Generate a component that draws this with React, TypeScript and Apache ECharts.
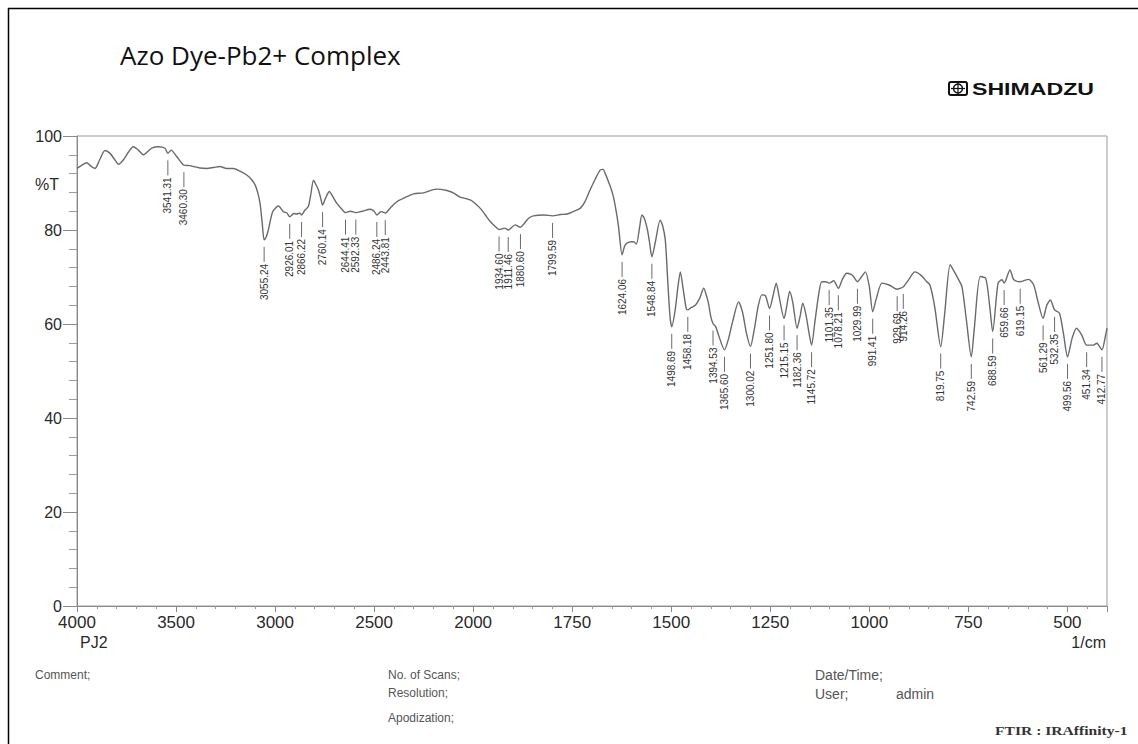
import { useEffect, useRef } from "react";
import * as echarts from "echarts";

// FTIR spectrum of the azo dye–Pb2+ complex (wavenumber in 1/cm, transmittance in %T)
const wavenumbers = [
  4000, 3975, 3951, 3930, 3909, 3885, 3859, 3833, 3810, 3791, 3766, 3740, 3716, 3690, 3665, 3640,
  3623, 3589, 3556, 3541.31, 3525, 3500, 3471, 3460.3, 3430, 3413, 3380, 3345, 3310, 3278, 3245, 3211,
  3180, 3143, 3120, 3101, 3088, 3076, 3065, 3055.24, 3045, 3034, 3012, 2983, 2958, 2940, 2926.01, 2905,
  2891, 2875, 2866.22, 2850, 2832, 2820, 2806, 2795, 2781, 2768, 2760.14, 2745, 2726, 2710, 2689, 2665,
  2644.41, 2620, 2592.33, 2560, 2520, 2500, 2486.24, 2470, 2461, 2443.81, 2420, 2386, 2350, 2301, 2251,
  2210, 2183, 2133, 2100, 2066, 2030, 2015, 2000, 1982, 1970, 1957, 1945, 1934.6, 1920, 1911.46, 1894,
  1880.6, 1870, 1860, 1848, 1822, 1799.59, 1780, 1763, 1745, 1730, 1718, 1705, 1692, 1679, 1672, 1667,
  1655, 1646, 1638, 1633, 1624.06, 1618, 1612, 1600, 1595, 1588, 1580, 1574, 1568, 1560, 1555, 1548.84,
  1540, 1528, 1522, 1515, 1508, 1503, 1498.69, 1490, 1483, 1477, 1470, 1462, 1458.18, 1450, 1439, 1428,
  1418, 1411, 1406, 1400, 1394.53, 1388, 1380, 1365.6, 1355, 1345, 1330, 1320, 1310, 1300.02, 1290, 1280,
  1271, 1262, 1251.8, 1243, 1235, 1228, 1215.15, 1208, 1201, 1193, 1182.36, 1175, 1168, 1160, 1152,
  1145.72, 1138, 1128, 1120, 1110, 1101.35, 1090, 1078.21, 1068, 1057, 1045, 1040, 1029.99, 1020, 1010,
  1000, 991.41, 982, 968, 950, 940, 929.69, 922, 914.26, 900, 885, 870, 855, 847, 835, 819.75, 810, 796,
  788, 775, 766, 755, 742.59, 735, 720, 706, 696, 688.59, 675, 665, 659.66, 645, 635, 619.15, 598, 585,
  575, 561.29, 552, 543, 532.35, 520, 510, 499.56, 488, 477, 464, 451.34, 435, 426, 412.77, 405, 400,
];

const transmittance = [
  93.1, 93.8, 94.3, 93.6, 93.1, 95.0, 96.9, 96.3, 95.0, 94.0, 94.9, 96.6, 97.7, 97.0, 96.0, 96.8,
  97.4, 97.7, 97.4, 96.3, 97.0, 95.8, 94.2, 93.8, 93.7, 93.5, 93.2, 93.1, 93.3, 93.5, 93.1, 93.1,
  92.6, 91.7, 90.8, 89.6, 88.0, 85.7, 81.5, 77.9, 78.5, 80.0, 83.9, 85.1, 83.9, 83.6, 82.8, 83.5,
  83.4, 83.6, 83.2, 84.2, 85.0, 87.5, 90.6, 89.8, 88.5, 86.5, 85.3, 86.8, 88.2, 87.2, 85.7, 84.5,
  83.7, 84.0, 83.7, 84.0, 84.4, 84.0, 83.2, 83.8, 83.9, 83.6, 84.6, 86.0, 86.8, 87.7, 87.9,
  88.5, 88.7, 88.4, 87.9, 87.0, 86.6, 86.4, 86.0, 84.6, 83.3, 81.8, 80.8, 80.1, 80.4, 80.0, 81.1,
  80.6, 81.5, 82.5, 83.0, 83.2, 83.0, 83.3, 83.4, 84.0, 84.6, 86.0, 88.5, 90.8, 92.8, 92.9, 92.1,
  89.5, 87.1, 83.5, 80.7, 74.7, 76.5, 77.2, 77.5, 77.5, 77.0, 80.5, 83.2, 82.5, 80.0, 77.5, 74.3,
  77.5, 82.1, 81.0, 77.9, 68.0, 61.5, 59.4, 63.0, 68.0, 71.1, 67.5, 63.2, 63.0, 63.5, 64.0, 65.5,
  67.6, 66.0, 64.4, 61.5, 60.1, 59.5, 57.5, 54.5, 57.0, 60.5, 64.7, 62.5, 58.0, 55.2, 59.0, 64.0,
  66.2, 66.0, 63.3, 66.0, 68.7, 66.0, 61.2, 64.0, 66.9, 64.5, 59.1, 61.5, 64.4, 62.0, 58.0,
  55.5, 60.0, 66.2, 69.0, 69.0, 68.7, 69.2, 67.6, 69.5, 70.8, 70.5, 70.1, 69.0, 70.0, 71.1,
  68.0, 62.6, 65.5, 68.7, 68.3, 67.8, 67.4, 67.6, 67.9, 69.5, 71.1, 70.4, 69.0, 68.3, 63.7, 55.2, 62.0, 72.6,
  71.5, 69.5, 67.9, 60.9, 53.0, 59.0, 70.1, 69.7, 63.7, 58.4, 68.7, 69.4, 68.7, 71.5, 69.4, 69.0, 69.5, 68.3,
  65.0, 61.2, 64.0, 65.1, 63.0, 62.3, 58.0, 53.0, 57.0, 59.1, 57.7, 55.5, 55.5, 55.9, 54.5, 57.0, 59.1,
];

// Picked band positions, labelled under the trace
const peakWavenumbers = [
  3541.31, 3460.3, 3055.24, 2926.01, 2866.22, 2760.14, 2644.41, 2592.33, 2486.24, 2443.81,
  1934.6, 1911.46, 1880.6, 1799.59, 1624.06, 1548.84, 1498.69, 1458.18, 1394.53, 1365.6,
  1300.02, 1251.8, 1215.15, 1182.36, 1145.72, 1101.35, 1078.21, 1029.99, 991.41, 929.69,
  914.26, 819.75, 742.59, 688.59, 659.66, 619.15, 561.29, 532.35, 499.56, 451.34, 412.77,
];

const xTickLabels = [4000, 3500, 3000, 2500, 2000, 1750, 1500, 1250, 1000, 750, 500];
const yTickLabels = [0, 20, 40, 60, 80, 100];

// The instrument halves the scale above 2000 1/cm: 2 cm-1 per unit there, 1 cm-1 per unit below.
const toAxis = (w: number) => (w >= 2000 ? (4000 - w) / 2 : 3000 - w);
const fromAxis = (u: number) => (u <= 1000 ? 4000 - 2 * u : 3000 - u);

const SANS = '"Liberation Sans", Arial, sans-serif';

export default function App() {
  const ref = useRef<HTMLDivElement>(null);

  useEffect(() => {
    if (!ref.current) return;
    const chart = echarts.init(ref.current, null, { renderer: "svg" });

    const spectrum = wavenumbers.map((w, i) => [toAxis(w), transmittance[i]]);
    const peaks = peakWavenumbers.map((w) => [toAxis(w), transmittance[wavenumbers.indexOf(w)]]);
    const peakLabels = peakWavenumbers.map((w) => w.toFixed(2));
    const tickSet = new Set(xTickLabels.map(toAxis));

    const footer = (text: string, x: number, y: number, size: number) => ({
      type: "text",
      x,
      y,
      style: { text, font: `${size}px ${SANS}`, fill: "#555", verticalAlign: "middle" },
    });

    chart.setOption({
      animation: false,
      backgroundColor: "#fff",
      grid: {
        left: 77,
        right: 31,
        top: 136,
        bottom: 138,
        show: true,
        borderColor: "#9a9a9a",
        borderWidth: 1,
      },
      xAxis: {
        type: "value",
        min: 0,
        max: 2600,
        interval: 250,
        axisLine: { lineStyle: { color: "#8a8a8a", width: 1 } },
        axisTick: { show: true, length: 6, lineStyle: { color: "#8a8a8a" } },
        minorTick: { show: true, splitNumber: 5, length: 3, lineStyle: { color: "#9a9a9a" } },
        splitLine: { show: false },
        axisLabel: {
          margin: 8,
          fontSize: 17,
          fontFamily: SANS,
          color: "#2a2a2a",
          showMaxLabel: false,
          formatter: (u: number) => (tickSet.has(u) ? String(fromAxis(u)) : ""),
        },
      },
      yAxis: {
        type: "value",
        min: 0,
        max: 100,
        interval: 20,
        axisLine: { show: true, lineStyle: { color: "#8a8a8a", width: 1 } },
        axisTick: { show: true, length: 14, lineStyle: { color: "#8a8a8a" } },
        minorTick: { show: true, splitNumber: 5, length: 8, lineStyle: { color: "#9a9a9a" } },
        splitLine: { show: false },
        axisLabel: {
          margin: 15,
          fontSize: 16,
          fontFamily: SANS,
          color: "#2a2a2a",
          formatter: (v: number) => (yTickLabels.includes(v) ? String(v) : ""),
        },
      },
      series: [
        {
          type: "line",
          data: spectrum,
          symbol: "none",
          smooth: 0.25,
          lineStyle: { color: "#6a6a6a", width: 1.4 },
          z: 3,
        },
        {
          type: "custom",
          data: peaks,
          z: 4,
          renderItem: (params: any, api: any) => {
            const pt = api.coord([api.value(0), api.value(1)]);
            const top = pt[1] + 7;
            const bottom = top + 15;
            return {
              type: "group",
              children: [
                {
                  type: "line",
                  shape: { x1: pt[0], y1: top, x2: pt[0], y2: bottom },
                  style: { stroke: "#6a6a6a", lineWidth: 1 },
                },
                {
                  type: "text",
                  x: pt[0],
                  y: bottom + 2,
                  rotation: Math.PI / 2,
                  style: {
                    text: peakLabels[params.dataIndex],
                    font: `10px ${SANS}`,
                    fill: "#333",
                    align: "right",
                    verticalAlign: "middle",
                  },
                },
              ],
            };
          },
        },
      ],
      graphic: [
        // page frame
        { type: "line", shape: { x1: 8, y1: 8.5, x2: 1138, y2: 8.5 }, style: { stroke: "#000", lineWidth: 1.5 } },
        { type: "line", shape: { x1: 8.5, y1: 8, x2: 8.5, y2: 744 }, style: { stroke: "#000", lineWidth: 1.5 } },
        {
          type: "text",
          x: 120,
          y: 55,
          style: { text: "Azo Dye-Pb2+ Complex", font: '26px "Open Sans", sans-serif', fill: "#111", verticalAlign: "middle" },
        },
        // instrument logo
        {
          type: "rect",
          shape: { x: 949, y: 82, width: 18, height: 13, r: 2 },
          style: { fill: "none", stroke: "#111", lineWidth: 2 },
        },
        { type: "circle", shape: { cx: 958, cy: 88.5, r: 4.5 }, style: { fill: "none", stroke: "#111", lineWidth: 1.5 } },
        { type: "line", shape: { x1: 958, y1: 83, x2: 958, y2: 94 }, style: { stroke: "#111", lineWidth: 1.2 } },
        { type: "line", shape: { x1: 951, y1: 88.5, x2: 965, y2: 88.5 }, style: { stroke: "#111", lineWidth: 1.2 } },
        {
          type: "text",
          x: 972,
          y: 89,
          scaleX: 1.36,
          style: { text: "SHIMADZU", font: `bold 17px ${SANS}`, fill: "#111", verticalAlign: "middle" },
        },
        { type: "text", x: 35, y: 184, style: { text: "%T", font: `16px ${SANS}`, fill: "#2a2a2a", verticalAlign: "middle" } },
        { type: "text", x: 80, y: 642, style: { text: "PJ2", font: `16px ${SANS}`, fill: "#2a2a2a", verticalAlign: "middle" } },
        {
          type: "text",
          x: 1106,
          y: 642,
          style: { text: "1/cm", font: `16px ${SANS}`, fill: "#2a2a2a", align: "right", verticalAlign: "middle" },
        },
        footer("Comment;", 35, 675, 12),
        footer("No. of Scans;", 388, 675, 12),
        footer("Resolution;", 388, 693, 12),
        footer("Apodization;", 388, 718, 12),
        footer("Date/Time;", 815, 675, 14),
        footer("User;", 815, 694, 14),
        footer("admin", 896, 694, 14),
        {
          type: "text",
          x: 995,
          y: 731,
          scaleX: 1.3,
          style: {
            text: "FTIR : IRAffinity-1",
            font: 'bold 12px "Liberation Serif", "Times New Roman", serif',
            fill: "#333",
            verticalAlign: "middle",
          },
        },
      ],
    });

    return () => chart.dispose();
  }, []);

  return (
    <div
      ref={ref}
      style={{ position: "fixed", left: 0, top: 0, width: 1138, height: 744, background: "#fff" }}
    />
  );
}
